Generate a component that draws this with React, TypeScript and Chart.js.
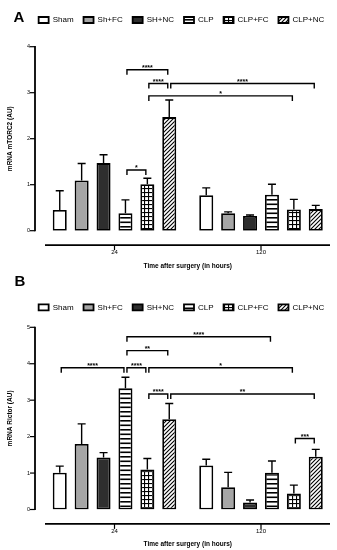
import React, { useEffect, useRef } from 'react';
import { Chart, registerables } from 'chart.js';

Chart.register(...registerables);

const FONT = 'Arial, "Liberation Sans", Helvetica, sans-serif';

const groupNames = ['Sham', 'Sh+FC', 'SH+NC', 'CLP', 'CLP+FC', 'CLP+NC'];
const timeLabels = ['24', '120'];

// Panel A: mRNA mTORC2 (mean and SEM, per group) at 24 h and 120 h
const mtorc2Mean24 = [0.45, 1.09, 1.47, 0.38, 1.01, 2.47];
const mtorc2Err24 = [0.42, 0.37, 0.18, 0.29, 0.13, 0.37];
const mtorc2Mean120 = [0.77, 0.38, 0.32, 0.78, 0.46, 0.47];
const mtorc2Err120 = [0.16, 0.03, 0.02, 0.23, 0.22, 0.08];

// Panel B: mRNA Rictor
const rictorMean24 = [1.01, 1.8, 1.43, 3.33, 1.1, 2.48];
const rictorErr24 = [0.18, 0.55, 0.13, 0.3, 0.3, 0.43];
const rictorMean120 = [1.21, 0.61, 0.19, 1.01, 0.44, 1.45];
const rictorErr120 = [0.17, 0.41, 0.07, 0.32, 0.23, 0.2];

// significance brackets: from/to = [time index, group index]
const mtorc2Sig = [
  { from: [0, 3], to: [0, 5], level: 3.5, label: '****' },
  { from: [0, 4], to: [0, 5], level: 3.2, label: '****' },
  { from: [0, 5], to: [1, 5], level: 3.2, label: '****' },
  { from: [0, 4], to: [1, 4], level: 2.93, label: '*' },
  { from: [0, 3], to: [0, 4], level: 1.32, label: '*' },
];
const rictorSig = [
  { from: [0, 3], to: [1, 3], level: 4.74, label: '****' },
  { from: [0, 3], to: [0, 5], level: 4.36, label: '**' },
  { from: [0, 0], to: [0, 3], level: 3.89, label: '****' },
  { from: [0, 3], to: [0, 4], level: 3.89, label: '****' },
  { from: [0, 4], to: [1, 4], level: 3.89, label: '*' },
  { from: [0, 4], to: [0, 5], level: 3.17, label: '****' },
  { from: [0, 5], to: [1, 5], level: 3.17, label: '**' },
  { from: [1, 4], to: [1, 5], level: 1.95, label: '***' },
];

function makePattern(kind: string): any {
  const c = document.createElement('canvas');
  let w = 4, h = 4;
  if (kind === 'hstripe') { w = 4; h = 9; }
  c.width = w; c.height = h;
  const g = c.getContext('2d')!;
  g.fillStyle = '#fff';
  g.fillRect(0, 0, w, h);
  g.fillStyle = '#000';
  g.strokeStyle = '#000';
  if (kind === 'hstripe') {
    g.fillRect(0, 1, w, 1.6);
    g.fillRect(0, 5.5, w, 1.6);
  } else if (kind === 'grid') {
    g.fillRect(0, 0, w, 1.1);
    g.fillRect(0, 0, 1.1, h);
  } else if (kind === 'diag') {
    g.lineWidth = 1.1;
    g.beginPath();
    g.moveTo(0, h); g.lineTo(w, 0);
    g.moveTo(-1, 1); g.lineTo(1, -1);
    g.moveTo(w - 1, h + 1); g.lineTo(w + 1, h - 1);
    g.stroke();
  }
  return g.createPattern(c, 'repeat');
}

type PanelProps = {
  mean24: number[]; err24: number[]; mean120: number[]; err120: number[];
  sig: { from: number[]; to: number[]; level: number; label: string }[];
  yMax: number; yTitle: string;
  padTop: number; spacer: number; xHeight: number; xTitlePad: number; xTickPad: number;
};

function Panel(p: PanelProps) {
  const ref = useRef<HTMLCanvasElement>(null);
  useEffect(() => {
    const canvas = ref.current!;
    const fills = ['#ffffff', '#a6a6a6', '#2e2e2e', makePattern('hstripe'), makePattern('grid'), makePattern('diag')];
    const datasets = groupNames.map((name, i) => ({
      label: name,
      data: [p.mean24[i], p.mean120[i]],
      backgroundColor: fills[i],
      borderColor: '#000',
      borderWidth: 1.8,
      borderSkipped: false,
      barPercentage: 0.64,
      categoryPercentage: 0.897,
    }));
    const errs = groupNames.map((_, i) => [p.err24[i], p.err120[i]]);

    const prismAxes = {
      id: 'prismAxes',
      afterDraw(chart: any) {
        const { ctx, chartArea: a, scales } = chart;
        const y = scales.y, x = scales.x;
        ctx.save();
        ctx.strokeStyle = '#000';
        const yx = a.left - 6.25;
        ctx.lineWidth = 1.8;
        ctx.beginPath();
        ctx.moveTo(yx, y.getPixelForValue(y.min) + 0.6);
        ctx.lineTo(yx, y.getPixelForValue(y.max) - 0.6);
        ctx.stroke();
        ctx.lineWidth = 1.2;
        y.ticks.forEach((_t: any, i: number) => {
          const py = y.getPixelForTick(i);
          ctx.beginPath(); ctx.moveTo(yx - 5, py); ctx.lineTo(yx, py); ctx.stroke();
        });
        const xy = a.bottom + 14.4;
        ctx.lineWidth = 1.8;
        ctx.beginPath(); ctx.moveTo(a.left + 3.75, xy); ctx.lineTo(a.right - 4.25, xy); ctx.stroke();
        ctx.lineWidth = 1.2;
        x.ticks.forEach((_t: any, i: number) => {
          const px = x.getPixelForTick(i);
          ctx.beginPath(); ctx.moveTo(px, xy); ctx.lineTo(px, xy + 5); ctx.stroke();
        });
        ctx.restore();
      },
    };

    const errorBars = {
      id: 'errorBars',
      afterDatasetsDraw(chart: any) {
        const { ctx, scales } = chart;
        const y = scales.y;
        ctx.save();
        ctx.strokeStyle = '#000';
        ctx.lineWidth = 1.4;
        chart.data.datasets.forEach((ds: any, i: number) => {
          const meta = chart.getDatasetMeta(i);
          meta.data.forEach((bar: any, j: number) => {
            const top = y.getPixelForValue(ds.data[j] + errs[i][j]);
            ctx.beginPath();
            ctx.moveTo(bar.x, bar.y);
            ctx.lineTo(bar.x, top);
            ctx.moveTo(bar.x - 4, top);
            ctx.lineTo(bar.x + 4, top);
            ctx.stroke();
          });
        });
        ctx.restore();
      },
    };

    const brackets = {
      id: 'brackets',
      afterDraw(chart: any) {
        const { ctx, scales } = chart;
        const y = scales.y;
        ctx.save();
        ctx.strokeStyle = '#000';
        ctx.fillStyle = '#000';
        ctx.lineWidth = 1.4;
        ctx.font = `bold 7px ${FONT}`;
        ctx.textAlign = 'center';
        ctx.textBaseline = 'alphabetic';
        p.sig.forEach((s) => {
          const b1 = chart.getDatasetMeta(s.from[1]).data[s.from[0]];
          const b2 = chart.getDatasetMeta(s.to[1]).data[s.to[0]];
          const x1 = b1.x + 1.5, x2 = b2.x - 1.5;
          const yy = y.getPixelForValue(s.level);
          ctx.beginPath();
          ctx.moveTo(x1, yy + 5); ctx.lineTo(x1, yy); ctx.lineTo(x2, yy); ctx.lineTo(x2, yy + 5);
          ctx.stroke();
          ctx.fillText(s.label, (x1 + x2) / 2, yy + 0.5);
        });
        ctx.restore();
      },
    };

    const chart = new Chart(canvas, {
      type: 'bar',
      data: { labels: timeLabels, datasets: datasets as any },
      options: {
        responsive: false,
        animation: false,
        layout: { padding: { top: p.padTop, left: 0, right: 2.75, bottom: 0 } },
        plugins: {
          legend: {
            display: true,
            position: 'top',
            align: 'end',
            labels: { boxWidth: 10, boxHeight: 6, padding: 10, color: '#000', font: { size: 8, family: FONT } },
          },
          title: {
            display: true,
            text: ' ',
            weight: 500,
            padding: 0,
            font: { size: p.spacer, lineHeight: 1 },
          } as any,
          tooltip: { enabled: false },
        },
        scales: {
          x: {
            grid: { display: false, drawTicks: false, tickLength: 0 },
            border: { display: false },
            ticks: { color: '#000', font: { size: 6, family: FONT }, padding: p.xTickPad },
            title: {
              display: true, text: 'Time after surgery (in hours)', color: '#000',
              font: { size: 6.5, weight: 'bold', family: FONT },
              padding: { top: 0, bottom: p.xTitlePad },
            },
            afterFit: (s: any) => { s.height = p.xHeight; },
          },
          y: {
            min: 0, max: p.yMax,
            grid: { display: false, drawTicks: false, tickLength: 0 },
            border: { display: false },
            ticks: { stepSize: 1, color: '#000', font: { size: 5.5, family: FONT }, padding: 11.25 },
            title: {
              display: true, text: p.yTitle, color: '#000',
              font: { size: 6.5, weight: 'bold', family: FONT },
              padding: { top: 6.6, bottom: 0 },
            },
            afterFit: (s: any) => { s.width = 41.25; },
          },
        },
      } as any,
      plugins: [prismAxes, errorBars, brackets],
    });
    return () => chart.destroy();
  }, []);
  return <canvas ref={ref} width={337} height={275} style={{ display: 'block', width: 337, height: 275 }} />;
}

const letterStyle: React.CSSProperties = {
  position: 'absolute', font: `bold 15px ${FONT}`, lineHeight: '15px', color: '#000', margin: 0,
};

export default function App() {
  return (
    <div style={{ position: 'absolute', left: 0, top: 0, width: 337, height: 550, background: '#fff' }}>
      <Panel mean24={mtorc2Mean24} err24={mtorc2Err24} mean120={mtorc2Mean120} err120={mtorc2Err120}
        sig={mtorc2Sig} yMax={4} yTitle="mRNA mTORC2 (AU)"
        padTop={6} spacer={12.7} xHeight={44.3} xTitlePad={5.1} xTickPad={18.4} />
      <Panel mean24={rictorMean24} err24={rictorErr24} mean120={rictorMean120} err120={rictorErr120}
        sig={rictorSig} yMax={5} yTitle="mRNA Rictor (AU)"
        padTop={18.3} spacer={6} xHeight={40.5} xTitlePad={1.8} xTickPad={18.6} />
      <div style={{ ...letterStyle, left: 13.5, top: 9 }}>A</div>
      <div style={{ ...letterStyle, left: 14.5, top: 273 }}>B</div>
    </div>
  );
}
